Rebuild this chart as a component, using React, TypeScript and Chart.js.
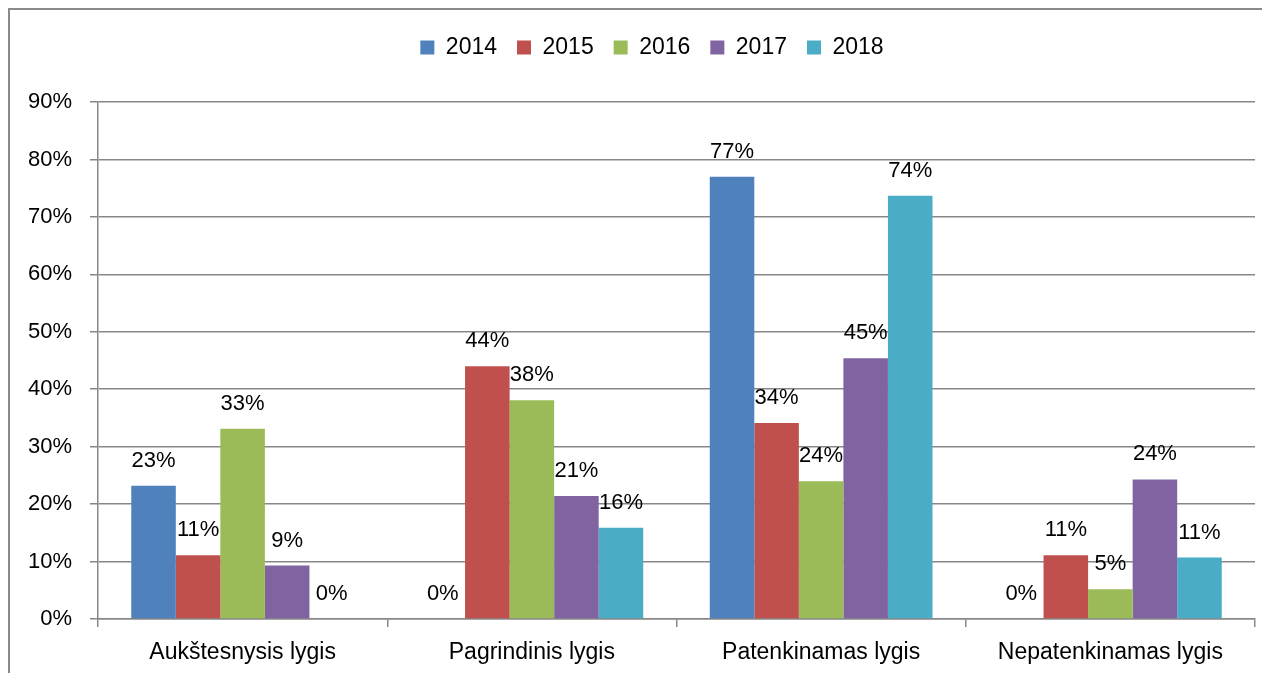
import React, { useEffect, useRef } from "react";
import { Chart, registerables } from "chart.js";

Chart.register(...registerables);

const categories = ["Aukštesnysis lygis", "Pagrindinis lygis", "Patenkinamas lygis", "Nepatenkinamas lygis"];
const seriesNames = ["2014", "2015", "2016", "2017", "2018"];
const values2014 = [23.2, 0, 77.0, 0];
const values2015 = [11.1, 44.0, 34.1, 11.1];
const values2016 = [33.1, 38.1, 24.0, 5.2];
const values2017 = [9.3, 21.4, 45.4, 24.3];
const values2018 = [0, 15.9, 73.7, 10.7];
const seriesColors = ["#4F81BD", "#C0504D", "#9BBB59", "#8064A2", "#4BACC6"];
const yTickMax = 90;
const yTickStep = 10;

const FONT = '"Liberation Sans", Arial, sans-serif';
const GRID = "#878787";
const LAYOUT_TOP = 6;
const LEGEND_H = 86;
const LEGEND_SHIFT = 19.5;

const legendFit = {
  id: "legendFit",
  beforeInit(chart: any) {
    const legend = chart.legend;
    if (!legend) return;
    const orig = legend.fit;
    legend.fit = function () {
      orig.call(this);
      this.height = LEGEND_H;
    };
  },
  afterLayout(chart: any) {
    const legend = chart.legend;
    if (!legend) return;
    legend.left += LEGEND_SHIFT;
    legend.right += LEGEND_SHIFT;
  },
};

const dataLabels = {
  id: "dataLabels",
  afterDatasetsDraw(chart: any) {
    const ctx = chart.ctx;
    ctx.save();
    ctx.font = `22px ${FONT}`;
    ctx.fillStyle = "#000";
    ctx.textAlign = "center";
    ctx.textBaseline = "alphabetic";
    chart.data.datasets.forEach((ds: any, i: number) => {
      const meta = chart.getDatasetMeta(i);
      meta.data.forEach((el: any, j: number) => {
        const v = ds.data[j];
        ctx.fillText(`${Math.round(v)}%`, el.x, el.y - 19);
      });
    });
    ctx.restore();
  },
};

export default function App() {
  const ref = useRef<HTMLCanvasElement | null>(null);

  useEffect(() => {
    if (!ref.current) return;
    const allValues = [values2014, values2015, values2016, values2017, values2018];
    const chart = new Chart(ref.current, {
      type: "bar",
      data: {
        labels: categories,
        datasets: seriesNames.map((name, i) => ({
          label: name,
          data: allValues[i],
          backgroundColor: seriesColors[i],
          borderWidth: 0,
          barPercentage: 1,
          categoryPercentage: 0.77,
        })),
      },
      options: {
        animation: false,
        responsive: true,
        maintainAspectRatio: false,
        layout: { padding: { left: 0, right: 15, top: LAYOUT_TOP, bottom: 0 } },
        plugins: {
          tooltip: { enabled: false },
          legend: {
            position: "top",
            align: "center",
            labels: {
              boxWidth: 14,
              boxHeight: 14,
              padding: 20,
              color: "#000",
              font: { family: FONT, size: 23 },
            },
          },
        },
        scales: {
          x: {
            offset: true,
            grid: {
              display: true,
              drawOnChartArea: false,
              drawTicks: true,
              tickLength: 8,
              color: GRID,
              lineWidth: 1.5,
              offset: true,
            },
            border: { display: true, color: GRID, width: 1.5 },
            ticks: {
              color: "#000",
              padding: 12,
              font: { family: FONT, size: 23 },
              maxRotation: 0,
              autoSkip: false,
            },
            afterFit(scale: any) {
              scale.height = 62;
            },
          },
          y: {
            min: 0,
            max: yTickMax,
            grid: {
              color: GRID,
              lineWidth: 1.5,
              drawTicks: true,
              tickLength: 8,
            },
            border: { display: true, color: GRID, width: 1.5 },
            ticks: {
              stepSize: yTickStep,
              color: "#000",
              padding: 18,
              font: { family: FONT, size: 22 },
              callback: (v: any) => `${v}%`,
            },
            afterFit(scale: any) {
              scale.width = 88;
            },
          },
        },
      },
      plugins: [legendFit, dataLabels],
    });
    return () => chart.destroy();
  }, []);

  return (
    <div
      style={{
        borderLeft: "2px solid #8a8a8a",
        borderTop: "2px solid #8a8a8a",
        width: 1260,
        height: 671,
        marginRight: -8,
        marginBottom: -8,
        background: "#fff",
      }}
    >
      <div style={{ position: "relative", width: 1260, height: 671 }}>
        <canvas ref={ref} />
      </div>
    </div>
  );
}
